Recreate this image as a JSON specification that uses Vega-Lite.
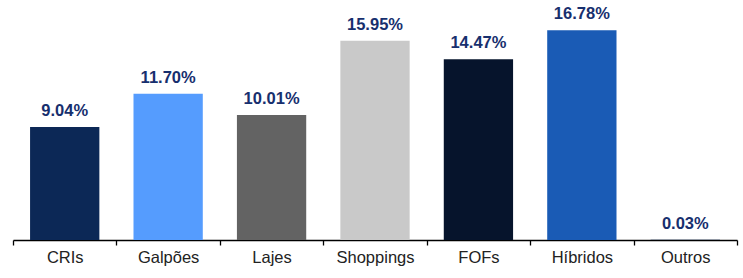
{
  "$schema": "https://vega.github.io/schema/vega-lite/v6.json",
  "width": 724,
  "height": 240,
  "autosize": {"type": "none"},
  "padding": {"left": 13, "top": 0, "right": 6, "bottom": 38},
  "background": "white",
  "config": {"view": {"stroke": null}, "font": "Liberation Sans"},
  "data": {
    "values": [
      {"cat": "CRIs", "v": 9.04, "label": "9.04%", "color": "#0c2856"},
      {"cat": "Galpões", "v": 11.70, "label": "11.70%", "color": "#559cfe"},
      {"cat": "Lajes", "v": 10.01, "label": "10.01%", "color": "#636363"},
      {"cat": "Shoppings", "v": 15.95, "label": "15.95%", "color": "#c9c9c9"},
      {"cat": "FOFs", "v": 14.47, "label": "14.47%", "color": "#06142c"},
      {"cat": "Híbridos", "v": 16.78, "label": "16.78%", "color": "#1a5bb5"},
      {"cat": "Outros", "v": 0.03, "label": "0.03%", "color": "#0c2856"}
    ]
  },
  "encoding": {
    "x": {
      "field": "cat",
      "type": "nominal",
      "sort": null,
      "scale": {"paddingInner": 0, "paddingOuter": 0},
      "axis": {
        "title": null,
        "labelAngle": 0,
        "labelFontSize": 16.5,
        "labelColor": "#222222",
        "labelPadding": 4,
        "tickBand": "extent",
        "tickSize": 5,
        "tickColor": "#000000",
        "domainColor": "#000000",
        "tickWidth": 1.3,
        "domainWidth": 1.3
      }
    },
    "y": {
      "field": "v",
      "type": "quantitative",
      "scale": {"domain": [0, 19.2], "nice": false},
      "axis": null
    }
  },
  "layer": [
    {
      "mark": {"type": "bar", "width": {"band": 0.67}},
      "encoding": {"color": {"field": "color", "type": "nominal", "scale": null}}
    },
    {
      "mark": {"type": "text", "baseline": "alphabetic", "dy": -11, "fontSize": 16.5, "fontWeight": "bold", "color": "#172f6e"},
      "encoding": {"text": {"field": "label"}}
    }
  ]
}
